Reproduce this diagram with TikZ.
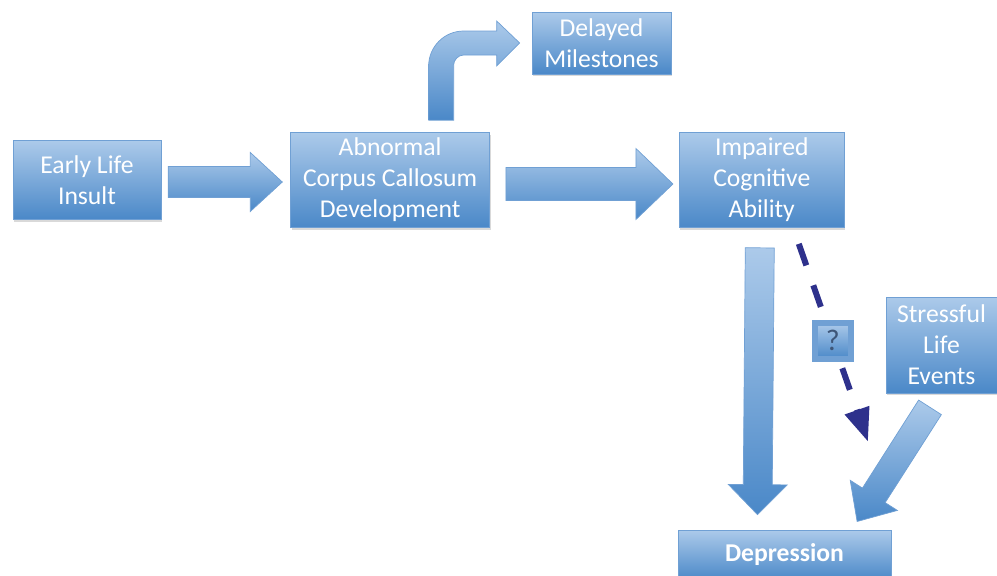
\documentclass[tikz,border=0pt]{standalone}
\usepackage{fontspec}
\setmainfont{Carlito}
\usetikzlibrary{positioning,calc,shadows,arrows.meta}
\definecolor{boxtop}{RGB}{172,202,234}
\definecolor{boxbot}{RGB}{74,136,200}
\definecolor{boxline}{RGB}{112,160,212}
\definecolor{qnavy}{RGB}{46,49,140}
\definecolor{qtext}{RGB}{62,86,120}

\tikzset{
  flowbox/.style={draw=boxline, top color=boxtop, bottom color=boxbot,
    text=white, align=center, inner sep=2pt,
    font=\fontsize{14.6}{17.6}\selectfont,
    drop shadow={shadow xshift=0.5pt, shadow yshift=-1.2pt, opacity=0.3}},
  barrow/.style={draw=boxline, top color=boxtop, bottom color=boxbot},
  dasharrow/.style={qnavy, line width=3.4pt, dash pattern=on 13pt off 12pt,
    -{Triangle[length=19pt,width=14pt]}},
  qbox/.style={flowbox, text=qtext, minimum size=0.72cm, inner sep=0pt,
    font=\fontsize{17}{18}\selectfont}
}

% block arrow: [options]{from}{to}{shaft half width}{head half width}{head length}
\newcommand{\blockarrow}[6][]{%
  \path[barrow,#1] let \p1=#2, \p2=#3,
    \n1={atan2(\y2-\y1,\x2-\x1)}, \n2={veclen(\x2-\x1,\y2-\y1)} in
    {[shift={(\p1)},rotate=\n1]
      (0pt,-#4) -- ({\n2-#6},-#4) -- ({\n2-#6},-#5) -- (\n2,0pt)
      -- ({\n2-#6},#5) -- ({\n2-#6},#4) -- (0pt,#4) -- cycle};}

\begin{document}
\begin{tikzpicture}[x=0.02cm,y=-0.02cm]
  \useasboundingbox (0,0) rectangle (997,575);

  % boxes
  \node[flowbox, minimum width=2.96cm, minimum height=1.58cm] (ins) at (87,180) {Early Life\\Insult};
  \node[flowbox, minimum width=3.98cm, minimum height=1.9cm, right=2.58cm of ins] (acc) {Abnormal\\Corpus Callosum\\Development};
  \node[flowbox, minimum width=3.3cm, minimum height=1.9cm, right=3.78cm of acc] (ica) {Impaired\\Cognitive\\Ability};
  \node[flowbox, minimum width=2.78cm, minimum height=1.24cm] (dm) at (601.5,43) {Delayed\\Milestones};
  \node[flowbox, minimum width=2.22cm, minimum height=1.92cm] (sle) at (941.5,345) {Stressful\\Life\\Events};
  \node[flowbox, minimum width=4.26cm, minimum height=1cm, font=\fontsize{14.6}{17.6}\selectfont\bfseries] (dep) at (784.5,555) {Depression};

  % block arrows
  \blockarrow{($(ins.east)+(7,2)$)}{($(acc.west)+(-8,2)$)}{0.31cm}{0.59cm}{0.64cm}
  \blockarrow{($(acc.east)+(16,4)$)}{($(ica.west)+(-6,4)$)}{0.33cm}{0.71cm}{0.74cm}
  \blockarrow{($(ica.south)+(-2,20)$)}{($(dep.north)+(-27,-15)$)}{0.29cm}{0.59cm}{0.6cm}
  \blockarrow{($(sle.south)+(-11.5,14)$)}{($(dep.north)+(72.5,-8)$)}{0.27cm}{0.56cm}{0.62cm}

  % bent arrow up to the milestones
  \coordinate (bb) at ($(acc.north)+(51,-12)$);
  \coordinate (bt) at ($(dm.west)+(-12,0)$);
  \coordinate (bend) at (bb |- bt);
  \path[barrow] ($(bb)+(-12.5,0)$) -- ($(bend)+(-12.5,23)$)
    .. controls ($(bend)+(-12.5,3.7)$) and ($(bend)+(3.2,-12)$) .. ($(bend)+(22.5,-12)$)
    -- ($(bt)+(-23,-12)$) -- ($(bt)+(-23,-22)$) -- (bt) -- ($(bt)+(-23,23)$)
    -- ($(bt)+(-23,12)$) -- ($(bend)+(22.5,12)$)
    .. controls ($(bend)+(17,12)$) and ($(bend)+(12.5,17)$) .. ($(bend)+(12.5,22)$)
    -- ($(bb)+(12.5,0)$) -- cycle;

  % uncertain link
  \coordinate (qs) at ($(ica.south)+(37,16)$);
  \coordinate (qe) at ($(dep.north)+(83.5,-88)$);
  \draw[dasharrow] (qs) -- (qe) node[qbox, pos=0.49, solid] (q) {?};
\end{tikzpicture}
\end{document}
